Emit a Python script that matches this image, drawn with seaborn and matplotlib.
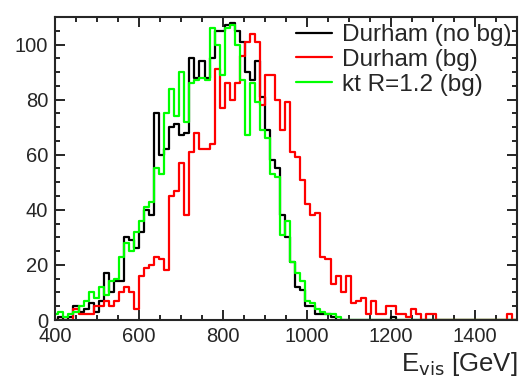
import numpy as np
import pandas as pd
import matplotlib
matplotlib.use("Agg")
import matplotlib.pyplot as plt
import seaborn as sns
from matplotlib.ticker import MultipleLocator

sns.set_style("ticks")
plt.rcParams['font.family'] = ['Liberation Sans', 'DejaVu Sans']

# 12 GeV bins, first bin partly left of 400
bin_edges = np.arange(396, 1501, 12)
bin_centers = (bin_edges[:-1] + bin_edges[1:]) / 2

durham_nobg = [
    0, 1, 0, 1, 5, 3, 4, 6, 3, 7,
    17, 10, 14, 14, 30, 29, 26, 32, 40, 38,
    75, 60, 62, 70, 71, 67, 68, 95, 88, 94,
    88, 95, 105, 105, 107, 108, 105, 101, 90, 87,
    94, 81, 69, 58, 55, 38, 30, 21, 12, 11,
    5, 5, 2, 2, 2, 1, 0, 0, 0, 0,
    0, 0, 0, 0, 0, 0, 0, 1, 0, 0,
    0, 0, 0, 0, 0, 0, 0, 0, 0, 0,
    0, 0, 0, 0, 0, 0, 0, 0, 0, 0,
    0, 0,
]
durham_bg = [
    0, 0, 0, 0, 4, 2, 2, 2, 5, 5,
    7, 5, 7, 10, 12, 10, 4, 16, 19, 20,
    23, 22, 18, 45, 47, 57, 38, 61, 68, 62,
    62, 64, 91, 77, 86, 80, 86, 96, 101, 104,
    101, 78, 89, 89, 80, 69, 79, 61, 59, 51,
    42, 38, 39, 23, 22, 13, 16, 10, 16, 6,
    7, 8, 2, 7, 2, 2, 5, 5, 2, 2,
    1, 4, 2, 0, 2, 2, 0, 0, 0, 0,
    0, 0, 0, 0, 0, 0, 0, 0, 0, 0,
    2, 0,
]
kt_bg = [
    2, 3, 1, 2, 3, 5, 7, 10, 8, 12,
    9, 14, 15, 23, 28, 25, 32, 36, 41, 43,
    55, 53, 75, 84, 74, 90, 72, 86, 87, 88,
    87, 106, 100, 89, 106, 107, 100, 87, 67, 86,
    79, 69, 66, 53, 52, 31, 36, 21, 17, 14,
    7, 6, 4, 3, 2, 2, 1, 0, 0, 0,
    0, 0, 0, 0, 0, 0, 0, 0, 0, 0,
    0, 0, 0, 0, 0, 0, 0, 0, 0, 0,
    0, 0, 0, 0, 0, 0, 0, 0, 0, 0,
    0, 0,
]

fig = plt.figure(figsize=(5.2, 3.78), dpi=100)
ax = fig.add_axes([55 / 520, 1 - 320 / 378, (517 - 55) / 520, (320 - 17) / 378])

series = [
    (durham_nobg, 'black', 'Durham (no bg)'),
    (durham_bg, '#ff0000', 'Durham (bg)'),
    (kt_bg, '#00ff00', 'kt R=1.2 (bg)'),
]
for vals, col, lab in series:
    df = pd.DataFrame({'E': bin_centers, 'n': vals})
    sns.histplot(data=df, x='E', weights='n', bins=list(bin_edges), element='step',
                 fill=False, color=col, linewidth=1.6, label=lab, ax=ax)

ax.set_xlim(400, 1500)
ax.set_ylim(0, 110)
ax.set_ylabel('')
ax.set_xlabel(r'E$_{\rm vis}$ [GeV]', loc='right', fontsize=18.5, labelpad=3)

ax.xaxis.set_major_locator(MultipleLocator(200))
ax.xaxis.set_minor_locator(MultipleLocator(50))
ax.yaxis.set_major_locator(MultipleLocator(20))
ax.yaxis.set_minor_locator(MultipleLocator(5))
ax.tick_params(which='both', direction='in', top=True, right=True, width=1.4,
               labelsize=14.5)
ax.tick_params(which='major', length=7, pad=5)
ax.tick_params(which='minor', length=3.5)
for s in ax.spines.values():
    s.set_linewidth(1.5)

ax.legend(frameon=False, loc='upper left', bbox_to_anchor=(296 / 520, 1 - 24 / 378),
          bbox_transform=fig.transFigure, fontsize=17.5, handlelength=1.5,
          handletextpad=0.4, labelspacing=0.12, borderpad=0, borderaxespad=0)

fig.savefig('out.png', dpi=100)
